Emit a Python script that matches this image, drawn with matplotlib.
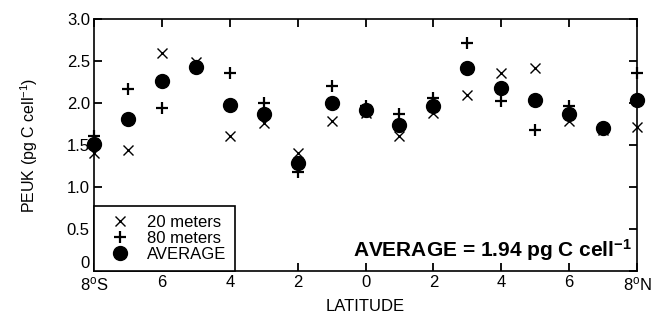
import numpy as np
import matplotlib
matplotlib.use("Agg")
import matplotlib.pyplot as plt
from matplotlib.lines import Line2D

plt.rcParams['font.family'] = ['Liberation Sans', 'DejaVu Sans']
plt.rcParams['mathtext.fontset'] = 'custom'
plt.rcParams['mathtext.rm'] = 'Liberation Sans'
plt.rcParams['mathtext.bf'] = 'Liberation Sans:bold'
plt.rcParams['mathtext.default'] = 'regular'

# latitude, -8 (8S) .. 8 (8N)
latitude = np.arange(-8, 9)
# PEUK carbon per cell (pg C cell-1)
peuk_20m = [1.40, 1.44, 2.60, 2.49, 1.61, 1.76, 1.41, 1.78, 1.88, 1.61, 1.88,
            2.10, 2.36, 2.42, 1.78, 1.68, 1.71]
peuk_80m = [1.61, 2.17, 1.94, 2.42, 2.36, 2.00, 1.18, 2.20, 1.96, 1.87, 2.06,
            2.72, 2.02, 1.68, 1.96, 1.71, 2.36]
peuk_avg = [1.51, 1.81, 2.26, 2.43, 1.98, 1.87, 1.29, 2.00, 1.92, 1.74, 1.96,
            2.42, 2.18, 2.04, 1.87, 1.70, 2.03]

xtick_pos = [-8, -6, -4, -2, 0, 2, 4, 6, 8]
xtick_labels = [r"8$^{o}$S", "6", "4", "2", "0", "2", "4", "6", r"8$^{o}$N"]
ytick_pos = [0, 0.5, 1.0, 1.5, 2.0, 2.5, 3.0]
ytick_labels = ["0", "0.5", "1.0", "1.5", "2.0", "2.5", "3.0"]

fig = plt.figure(figsize=(6.63, 3.22), dpi=100)
ax = fig.add_axes([0.1418, 0.1584, 0.819, 0.7826])

ax.plot(latitude, peuk_20m, linestyle='none', marker='x', ms=7, mew=1.0,
        color='black', clip_on=False, zorder=3)
ax.plot(latitude, peuk_80m, linestyle='none', marker='+', ms=8, mew=1.6,
        color='black', clip_on=False, zorder=3)
ax.plot(latitude, peuk_avg, linestyle='none', marker='o', ms=10,
        color='black', clip_on=False, zorder=4)

ax.set_xlim(-8, 8)
ax.set_ylim(0, 3)
ax.set_xticks(xtick_pos)
ax.set_xticklabels(xtick_labels)
ax.set_yticks(ytick_pos)
ax.set_yticklabels(ytick_labels)
ax.tick_params(direction='in', length=6, width=1.3, labelsize=12,
               top=True, right=True, pad=3)
ax.get_yticklabels()[0].set_verticalalignment('bottom')
for s in ax.spines.values():
    s.set_linewidth(1.2)

ax.set_xlabel("LATITUDE", fontsize=12, labelpad=4)
ax.set_ylabel(r"PEUK (pg C cell$^{-1}$)", fontsize=11.5, labelpad=19)

handles = [
    Line2D([], [], linestyle='none', marker='x', ms=7, mew=1.0, color='black'),
    Line2D([], [], linestyle='none', marker='+', ms=8, mew=1.6, color='black'),
    Line2D([], [], linestyle='none', marker='o', ms=10, color='black'),
]
leg = ax.legend(handles, ["20 meters", "80 meters", "AVERAGE"], loc='lower left',
                borderaxespad=0, fancybox=False, edgecolor='black', framealpha=1,
                fontsize=12, handlelength=2.0, handletextpad=0.6,
                labelspacing=0.05, borderpad=0.55)
leg.get_frame().set_linewidth(1.2)

ax.text(0.99, 0.03, r"AVERAGE = 1.94 pg C cell$^{\mathbf{-1}}$", transform=ax.transAxes,
        ha='right', va='bottom', fontsize=15, fontweight='bold')

fig.savefig("out.png", dpi=100)
